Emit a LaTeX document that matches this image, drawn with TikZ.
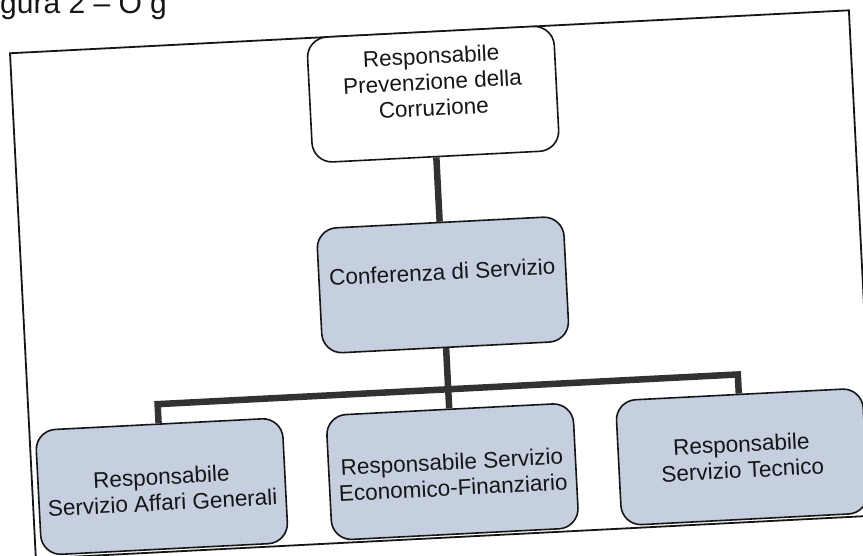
\documentclass[tikz,border=0pt]{standalone}
\usepackage{fontspec}
\setmainfont{Liberation Sans}
\definecolor{boxfill}{RGB}{197,207,223}
\definecolor{connc}{RGB}{50,50,50}
\definecolor{ink}{RGB}{22,22,22}
\begin{document}
\begin{tikzpicture}[x=1pt,y=-1pt,
  orgbox/.style={draw=ink, line width=1.6pt, rounded corners=20pt, minimum width=247pt, minimum height=125pt, inner sep=0pt, transform shape},
  topbox/.style={orgbox, fill=white},
  subbox/.style={orgbox, fill=boxfill},
  txt/.style={text=ink, align=center, font=\fontsize{22.5}{26}\selectfont, inner sep=0pt, transform shape},
  connline/.style={draw=connc, line width=6.5pt, line join=miter},
  framebox/.style={draw=ink, line width=1.8pt}]
\useasboundingbox (0,0) rectangle (863,555);
\clip (0,0) rectangle (863,555);
\fill[white] (0,0) rectangle (863,555);
\node[anchor=base west, text=ink, font=\fontsize{30}{34}\selectfont, inner sep=0pt] (title) at (-25,13) {Figura 2 – O g};
\begin{scope}[rotate around={2.93:(431.5,277.5)}]
  \draw[framebox] (22,32) rectangle (862,538);
  \node[topbox, label={[txt, yshift=12.5pt]center:{Responsabile\\Prevenzione della\\Corruzione}}] (rpc) at (442.5,94.5) {};
  \node[subbox, label={[txt, yshift=13pt]center:{Conferenza di Servizio}}] (cds) at (442.5,285.5) {};
  \node[subbox, label={[txt, yshift=-3pt]center:{Responsabile\\Servizio Affari Generali}}] (sag) at (151.5,472.5) {};
  \node[subbox, label={[txt, yshift=-3pt]center:{Responsabile Servizio\\Economico-Finanziario}}] (sef) at (442.5,472.5) {};
  \node[subbox, label={[txt]center:{Responsabile\\Servizio Tecnico}}] (stc) at (732.5,472.5) {};
  \coordinate (barL) at (151.5,390);
  \coordinate (barR) at (732.5,390);
  \draw[connline] (rpc.south) -- (cds.north);
  \draw[connline] (cds.south) -- (sef.north);
  \draw[connline] (sag.north) -- (barL) -- (barR) -- (stc.north);
\end{scope}
\end{tikzpicture}
\end{document}
